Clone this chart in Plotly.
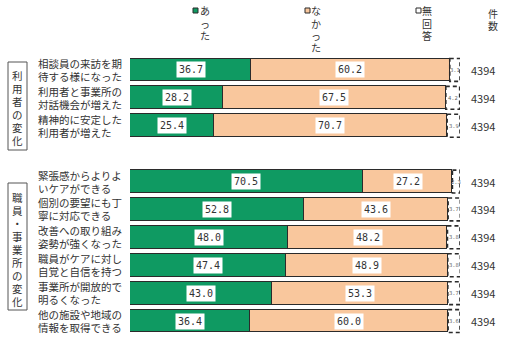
import plotly.graph_objects as go

# ---- data -------------------------------------------------------------
label_line1 = ["相談員の来訪を期", "利用者と事業所の", "精神的に安定した",
               "緊張感からよりよ", "個別の要望にも丁", "改善への取り組み",
               "職員がケアに対し", "事業所が開放的で", "他の施設や地域の"]
label_line2 = ["待する様になった", "対話機会が増えた", "利用者が増えた",
               "いケアができる", "寧に対応できる", "姿勢が強くなった",
               "自覚と自信を持つ", "明るくなった", "情報を取得できる"]
atta = [36.7, 28.2, 25.4, 70.5, 52.8, 48.0, 47.4, 43.0, 36.4]       # あった
nakatta = [60.2, 67.5, 70.7, 27.2, 43.6, 48.2, 48.9, 53.3, 60.0]    # なかった
mukaito = [3.1, 4.2, 3.9, 2.3, 3.7, 3.8, 3.8, 3.7, 3.6]             # 無回答
counts = [4394, 4394, 4394, 4394, 4394, 4394, 4394, 4394, 4394]     # 件数
group_names = ["利用者の変化", "職員・事業所の変化"]
group_sizes = [3, 6]
series_names = ["あった", "なかった", "無回答"]

# ---- layout helpers ---------------------------------------------------
W, H = 505, 337
L, R, T, B = 130, 45, 56, 2
PW, PH = W - L - R, H - T - B


def px_x(px):
    return (px - L) / PW


def px_y(py):
    return 1 - (py - T) / PH


GREEN = "#0f9a62"
PEACH = "#f9c79d"
EDGE = "#2b2b2b"
TXT = "#333333"
JP = "Noto Sans CJK JP"
MONO = "DejaVu Sans Mono"

# row slots: groups separated by one empty slot
rows = []
pos = 0
for gi, n in enumerate(group_sizes):
    rows.extend(range(pos, pos + n))
    pos += n + 1
last_row = rows[-1]

fig = go.Figure()
fig.add_trace(go.Bar(y=rows, x=atta, orientation="h", name=series_names[0],
                     marker=dict(color=GREEN, line=dict(color=EDGE, width=1.2)),
                     width=0.82, hoverinfo="x"))
fig.add_trace(go.Bar(y=rows, x=nakatta, orientation="h", name=series_names[1],
                     marker=dict(color=PEACH, line=dict(color=EDGE, width=1.2)),
                     width=0.82, hoverinfo="x"))
fig.add_trace(go.Bar(y=rows, x=mukaito, orientation="h", name=series_names[2],
                     marker=dict(color="white", line=dict(color="white", width=0)),
                     width=0.82, hoverinfo="x"))

annotations = []
shapes = []


def note(**kw):
    kw.setdefault("showarrow", False)
    kw.setdefault("xanchor", "center")
    kw.setdefault("yanchor", "middle")
    annotations.append(kw)


for i, r in enumerate(rows):
    a, n, m = atta[i], nakatta[i], mukaito[i]
    # value labels in white boxes
    note(x=a / 2, y=r, xref="x", yref="y", text=f"{a:.1f}",
         bgcolor="white", borderpad=2,
         font=dict(family=MONO, size=10, color=TXT))
    note(x=a + n / 2, y=r, xref="x", yref="y", text=f"{n:.1f}",
         bgcolor="white", borderpad=2,
         font=dict(family=MONO, size=10, color=TXT))
    note(x=a + n + m / 2, y=r, xref="x", yref="y", text=f"{m:.1f}",
         font=dict(family=MONO, size=5.5, color="#666"))
    # dashed outline of the no-answer segment
    shapes.append(dict(type="rect", xref="x", yref="y", x0=a + n, x1=a + n + m,
                       y0=r - 0.41, y1=r + 0.41,
                       line=dict(color=EDGE, width=1.6, dash="4px,3px")))
    # category label, two lines
    note(x=px_x(36), y=r, xref="paper", yref="y", yshift=6.5,
         text=label_line1[i], xanchor="left",
         font=dict(family=JP, size=10.5, color=TXT))
    note(x=px_x(36), y=r, xref="paper", yref="y", yshift=-6.5,
         text=label_line2[i], xanchor="left",
         font=dict(family=JP, size=10.5, color=TXT))
    # count column
    note(x=px_x(483), y=r, xref="paper", yref="y", text=str(counts[i]),
         font=dict(family=JP, size=11, color=TXT))


def vertical_text(text, x, y_start, step, size=10.5):
    for k, ch in enumerate(text):
        note(x=px_x(x), y=px_y(y_start + k * step), xref="paper", yref="paper",
             text=ch, font=dict(family=JP, size=size, color=TXT))


# group boxes with vertical captions
group_boxes = [(62, 150, 75), (183, 310, 197)]
for name, (top, bot, first) in zip(group_names, group_boxes):
    shapes.append(dict(type="rect", xref="paper", yref="paper",
                       x0=px_x(8), x1=px_x(27), y0=px_y(bot), y1=px_y(top),
                       line=dict(color="#555", width=1), fillcolor="white",
                       layer="below"))
    vertical_text(name, 17.5, first, 13.1)

# column headers with legend squares
headers = [(series_names[0], 205, 195.5, GREEN),
           (series_names[1], 316, 307.5, PEACH),
           (series_names[2], 427, 418.5, "white")]
for name, tx, sx, col in headers:
    shapes.append(dict(type="rect", xref="paper", yref="paper",
                       x0=px_x(sx - 2.5), x1=px_x(sx + 2.5),
                       y0=px_y(13), y1=px_y(8),
                       line=dict(color=EDGE, width=1), fillcolor=col))
    vertical_text(name, tx, 11, 12.2, size=10)
vertical_text("件数", 493, 13, 12.5, size=10)

fig.update_layout(
    width=W, height=H,
    margin=dict(l=L, r=R, t=T, b=B, autoexpand=False),
    barmode="stack", bargap=0,
    showlegend=False,
    plot_bgcolor="white", paper_bgcolor="white",
    xaxis=dict(range=[0, 100], visible=False, fixedrange=True),
    yaxis=dict(range=[last_row + 0.5, -0.5], visible=False, fixedrange=True),
    annotations=annotations,
    shapes=shapes,
)

fig.write_html("out.html")
